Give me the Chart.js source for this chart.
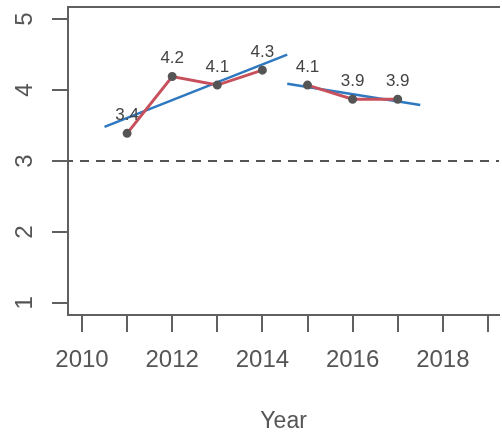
<!DOCTYPE html>
<html>
<head>
<meta charset="utf-8">
<script src="https://cdn.jsdelivr.net/npm/chart.js@4"></script>
<style>
  body { margin: 0; background: #fff; }
  #wrap { width: 502px; height: 435px; }
</style>
</head>
<body>
<div id="wrap"><canvas id="year-chart"></canvas></div>
<script>
// values
var years1 = [2011, 2012, 2013, 2014];
var values1 = [3.39, 4.19, 4.07, 4.28];
var years2 = [2015, 2016, 2017];
var values2 = [4.07, 3.87, 3.87];

// fitted lines (end points as seen in the picture)
var trend1X = [2010.5, 2014.55];
var trend1Y = [3.48, 4.5];
var trend2X = [2014.55, 2017.5];
var trend2Y = [4.09, 3.79];

var refValue = 3;
var xTicks = [2010, 2011, 2012, 2013, 2014, 2015, 2016, 2017, 2018, 2019];
var yTicks = [1, 2, 3, 4, 5];

var X_MIN = 2009.69, X_MAX = 2019.25;
var axisColor = '#606060';
var textColor = '#555';
var red = '#c8505c';
var blue = '#2e78c0';

function pts(xs, ys) {
    return xs.map(function (x, i) { return {x: x, y: ys[i]}; });
}

// value labels above the points
var pointLabels = {
    id: 'pointLabels',
    afterDatasetsDraw(chart) {
        var ctx = chart.ctx;
        ctx.save();
        ctx.font = '17px "Liberation Sans", Arial, sans-serif';
        ctx.fillStyle = '#444';
        ctx.textAlign = 'center';
        ctx.textBaseline = 'middle';
        chart.data.datasets.forEach(function (ds, i) {
            if (!ds.showLabels) return;
            chart.getDatasetMeta(i).data.forEach(function (el, j) {
                ctx.fillText(ds.data[j].y.toFixed(1), el.x, el.y - 18);
            });
        });
        ctx.restore();
    }
};

// y tick labels turned like R (las = 0)
var yLabels = {
    id: 'yLabels',
    afterDraw(chart) {
        var ctx = chart.ctx;
        var y = chart.scales.y;
        ctx.save();
        ctx.font = '24px "Liberation Sans", Arial, sans-serif';
        ctx.fillStyle = textColor;
        ctx.textAlign = 'center';
        ctx.textBaseline = 'middle';
        yTicks.forEach(function (v) {
            ctx.save();
            ctx.translate(25, y.getPixelForValue(v));
            ctx.rotate(-Math.PI / 2);
            ctx.fillText(String(v), 0, 0);
            ctx.restore();
        });
        ctx.restore();
    }
};

var layout = {
    type: 'line',
    data: {
        datasets: [{
            data: pts(years1, values1),
            borderColor: red,
            borderWidth: 3,
            pointRadius: 3,
            pointBackgroundColor: '#555',
            pointBorderColor: '#555',
            showLabels: true,
        }, {
            data: pts(years2, values2),
            borderColor: red,
            borderWidth: 3,
            pointRadius: 3,
            pointBackgroundColor: '#555',
            pointBorderColor: '#555',
            showLabels: true,
        }, {
            data: pts(trend1X, trend1Y),
            borderColor: blue,
            borderWidth: 2.5,
            pointRadius: 0,
        }, {
            data: pts(trend2X, trend2Y),
            borderColor: blue,
            borderWidth: 2.5,
            pointRadius: 0,
        }, {
            data: pts([X_MIN, X_MAX], [refValue, refValue]),
            borderColor: '#555',
            borderWidth: 2,
            borderDash: [9, 7],
            borderDashOffset: -12,
            pointRadius: 0,
        }]
    },
    options: {
        responsive: true,
        maintainAspectRatio: false,
        animation: false,
        layout: { padding: 0, autoPadding: false },
        plugins: {
            legend: { display: false },
            tooltip: { enabled: false },
        },
        scales: {
            x: {
                type: 'linear',
                min: X_MIN,
                max: X_MAX,
                afterBuildTicks: function (scale) {
                    scale.ticks = xTicks.map(function (v) { return {value: v}; });
                },
                afterFit: function (scale) { scale.height = 120; },
                border: { color: axisColor, width: 2 },
                grid: {
                    drawOnChartArea: false,
                    tickLength: 17,
                    color: axisColor,
                    lineWidth: 2,
                },
                ticks: {
                    autoSkip: false,
                    maxRotation: 0,
                    padding: 14,
                    color: textColor,
                    font: { size: 24, family: '"Liberation Sans", Arial, sans-serif' },
                    callback: function (v) { return v % 2 === 0 ? String(v) : ''; }
                },
                title: {
                    display: true,
                    text: 'Year',
                    color: textColor,
                    padding: { top: 0, bottom: 0 },
                    font: { size: 23, family: '"Liberation Sans", Arial, sans-serif' }
                }
            },
            x2: {
                type: 'linear',
                position: 'top',
                min: X_MIN,
                max: X_MAX,
                afterFit: function (scale) { scale.height = 7; },
                border: { color: axisColor, width: 2 },
                grid: { display: false },
                ticks: { display: false }
            },
            y: {
                min: 0.83,
                max: 5.17,
                afterBuildTicks: function (scale) {
                    scale.ticks = yTicks.map(function (v) { return {value: v}; });
                },
                afterFit: function (scale) { scale.width = 68; },
                border: { color: axisColor, width: 2 },
                grid: {
                    drawOnChartArea: false,
                    tickLength: 16,
                    color: axisColor,
                    lineWidth: 2,
                },
                ticks: { display: false }
            }
        }
    },
    plugins: [pointLabels, yLabels]
};

new Chart(document.getElementById('year-chart'), layout);
</script>
</body>
</html>
